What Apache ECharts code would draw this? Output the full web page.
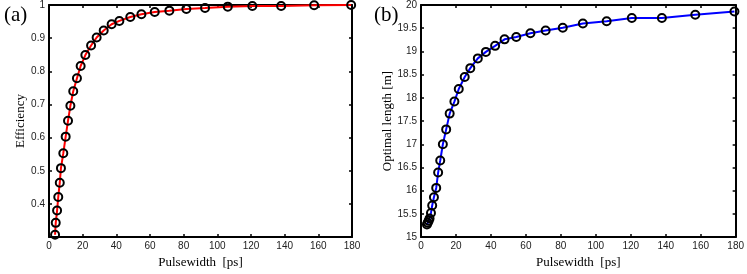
<!DOCTYPE html>
<html>
<head>
<meta charset="utf-8">
<script src="https://cdn.jsdelivr.net/npm/echarts@6/dist/echarts.min.js"></script>
<style>
html,body{margin:0;padding:0;background:#fff;}
#c{width:747px;height:274px;}
</style>
</head>
<body>
<div id="c"></div>
<script>
// Panel (a): efficiency vs pulsewidth
const pulseA = [3.6, 4.0, 4.8, 5.5, 6.4, 7.1, 8.5, 9.9, 11.3, 12.7, 14.4, 16.6, 18.8, 21.6, 25.0, 28.3, 32.5, 37.2, 41.8, 48.3, 54.9, 62.8, 71.5, 81.6, 92.7, 106.2, 120.8, 137.9, 157.5, 179.5];
const efficiency = [0.307, 0.343, 0.380, 0.421, 0.464, 0.508, 0.553, 0.603, 0.651, 0.696, 0.740, 0.779, 0.816, 0.849, 0.878, 0.902, 0.923, 0.942, 0.952, 0.964, 0.972, 0.979, 0.983, 0.988, 0.991, 0.995, 0.997, 0.997, 0.999, 1.0];
// Panel (b): optimal length vs pulsewidth
const pulseB = [3.4, 3.8, 4.4, 4.9, 5.7, 6.4, 7.4, 8.7, 9.8, 11.0, 12.5, 14.4, 16.4, 19.1, 21.6, 25.0, 28.2, 32.5, 37.1, 42.4, 47.8, 54.5, 62.6, 71.3, 81.1, 92.6, 106.2, 120.6, 137.8, 156.9, 179.3];
const optLength = [15.27, 15.31, 15.35, 15.40, 15.52, 15.68, 15.86, 16.06, 16.39, 16.65, 17.00, 17.32, 17.66, 17.92, 18.19, 18.45, 18.64, 18.85, 18.99, 19.12, 19.26, 19.31, 19.39, 19.45, 19.51, 19.60, 19.65, 19.72, 19.72, 19.79, 19.86];
const xTicks = [0, 20, 40, 60, 80, 100, 120, 140, 160, 180];
const yTicksA = [0.4, 0.5, 0.6, 0.7, 0.8, 0.9, 1];
const yTicksB = [15, 15.5, 16, 16.5, 17, 17.5, 18, 18.5, 19, 19.5, 20];
const panelLabels = ['(a)', '(b)'];

const SERIF = '"Liberation Serif", "DejaVu Serif", serif';
const SANS = '"Liberation Sans", Arial, sans-serif';
const chart = echarts.init(document.getElementById('c'));

function xAx(grid, pos) {
  const bottom = pos === 'bottom';
  return {
    type: 'value', gridIndex: grid, position: pos,
    min: xTicks[0], max: xTicks[xTicks.length - 1], interval: xTicks[1] - xTicks[0],
    name: bottom ? 'Pulsewidth  [ps]' : '', nameLocation: 'middle', nameGap: 18,
    nameTextStyle: {fontFamily: SERIF, fontSize: 13, color: '#000'},
    axisLine: {show: true, onZero: false, lineStyle: {color: '#000', width: 2}},
    axisTick: {show: true, inside: true, length: 3, lineStyle: {color: '#000', width: 1.5}},
    axisLabel: {show: bottom, fontFamily: SANS, fontSize: 10, color: '#222', margin: 4},
    splitLine: {show: false}
  };
}
function yAx(grid, pos, ticks, name, gap, hideMin) {
  const left = pos === 'left';
  return {
    type: 'value', gridIndex: grid, position: pos,
    min: hideMin ? 0.3 : ticks[0], max: ticks[ticks.length - 1], interval: ticks[1] - ticks[0],
    name: left ? name : '', nameLocation: 'middle', nameGap: gap,
    nameTextStyle: {fontFamily: SERIF, fontSize: 13, color: '#000'},
    axisLine: {show: true, onZero: false, lineStyle: {color: '#000', width: 2}},
    axisTick: {show: true, inside: true, length: 3, lineStyle: {color: '#000', width: 1.5}},
    axisLabel: {show: left, fontFamily: SANS, fontSize: 10, color: '#222', margin: 4,
      showMinLabel: !hideMin, formatter: v => String(+v.toFixed(2))},
    splitLine: {show: false}
  };
}
function ser(xi, yi, xs, ys, color) {
  return {
    type: 'line', xAxisIndex: xi, yAxisIndex: yi,
    data: xs.map((x, i) => [x, ys[i]]),
    clip: false,
    symbol: 'circle', symbolSize: 8,
    lineStyle: {color: color, width: 2},
    itemStyle: {color: 'rgba(0,0,0,0)', borderColor: '#000', borderWidth: 2},
    emphasis: {disabled: true},
    animation: false
  };
}

chart.setOption({
  animation: false,
  title: [
    {text: panelLabels[0], left: -1, top: 0, textStyle: {fontFamily: SERIF, fontSize: 21, fontWeight: 'normal', color: '#000'}},
    {text: panelLabels[1], left: 369, top: 0, textStyle: {fontFamily: SERIF, fontSize: 21, fontWeight: 'normal', color: '#000'}}
  ],
  grid: [
    {left: 49, top: 5, right: 395, bottom: 30},
    {left: 421, top: 5, right: 9, bottom: 30}
  ],
  xAxis: [xAx(0, 'bottom'), xAx(0, 'top'), xAx(1, 'bottom'), xAx(1, 'top')],
  yAxis: [
    yAx(0, 'left', yTicksA, 'Efficiency', 20, true),
    yAx(0, 'right', yTicksA, '', 0, true),
    yAx(1, 'left', yTicksB, 'Optimal length [m]', 27, false),
    yAx(1, 'right', yTicksB, '', 0, false)
  ],
  series: [
    ser(0, 0, pulseA, efficiency, '#ff0000'),
    ser(2, 2, pulseB, optLength, '#0000ff')
  ]
});
</script>
</body>
</html>
